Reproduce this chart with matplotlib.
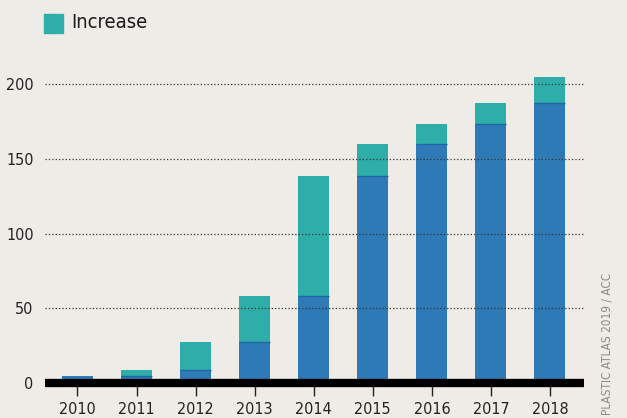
import matplotlib.pyplot as plt
import numpy as np

years = ["2010", "2011", "2012", "2013", "2014", "2015", "2016", "2017", "2018"]
previous = [5, 5, 9, 27.5, 58, 138.5, 160, 173, 187]
increase = [0, 4, 18.5, 30.5, 80.5, 21.5, 13, 14, 18]
yticks = [0, 50, 100, 150, 200]

bg = "#efece7"
blue = "#2e7ab6"
teal = "#2fada8"

plt.rcParams["font.family"] = ["DejaVu Sans"]
plt.rcParams["font.stretch"] = "condensed"

fig = plt.figure(figsize=(6.27, 4.18), dpi=100, facecolor=bg)
ax = fig.add_axes([0.0713, 0.0837, 0.8601, 0.7689], facecolor=bg)

x = np.arange(len(years))
w = 0.525
prev = np.array(previous)
inc = np.array(increase)

ax.bar(x, prev, width=w, color=blue, zorder=2)
ax.bar(x, inc, width=w, bottom=prev, color=teal, zorder=2)
# thin darker line where the increase sits on the previous total
ax.hlines(prev[1:], x[1:] - w / 2, x[1:] + w / 2, color="#1f67a3", lw=1.0, zorder=3)

ax.set_xlim(-0.555, 8.576)
ax.set_ylim(0, 215)

ax.set_yticks(yticks)
ax.set_yticklabels([str(v) for v in yticks])
for v in yticks[1:]:
    ax.axhline(v, color="#333333", lw=0.9, ls=(0, (1, 1.7)), zorder=4)

ax.set_xticks(x)
ax.set_xticklabels(years)
ax.tick_params(axis="x", length=9, width=1, color="#222222", pad=5,
               labelsize=11.5, labelcolor="#222222")
ax.tick_params(axis="y", length=0, pad=8, labelsize=11.5, labelcolor="#222222")

for s in ["top", "right", "left"]:
    ax.spines[s].set_visible(False)
ax.spines["bottom"].set_linewidth(6)
ax.spines["bottom"].set_color("black")
ax.spines["bottom"].set_capstyle("butt")
ax.spines["bottom"].set_zorder(5)

# legend
fig.patches.append(plt.Rectangle((44 / 627, 1 - 33 / 418), 19 / 627, 19 / 418,
                                 transform=fig.transFigure, color=teal))
fig.text(71 / 627, 1 - 23 / 418, "Increase", fontsize=14.5, color="#1a1a1a",
         va="center", ha="left")

fig.text(607 / 627, 1 - 415 / 418, "PLASTIC ATLAS 2019 / ACC", rotation=90,
         fontsize=8.5, color="#8a8a8a", ha="center", va="bottom")

fig.savefig("out.png", dpi=100, facecolor=bg)
